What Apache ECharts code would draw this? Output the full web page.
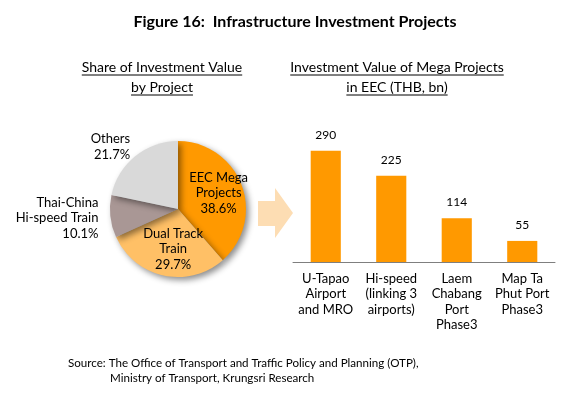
<!DOCTYPE html>
<html>
<head>
<meta charset="utf-8">
<script src="https://cdn.jsdelivr.net/npm/echarts@6/dist/echarts.min.js"></script>
<style>html,body{margin:0;padding:0;background:#fff;}#c{width:578px;height:393px;}</style>
</head>
<body>
<div id="c"></div>
<script>
const pieNames = ['EEC Mega\nProjects', 'Dual Track\nTrain', 'Thai-China\nHi-speed Train', 'Others'];
const pieValues = [38.6, 29.7, 10.1, 21.7];
const barCategories = ['U-Tapao\nAirport\nand MRO', 'Hi-speed\n(linking 3\nairports)', 'Laem\nChabang\nPort\nPhase3', 'Map Ta\nPhut Port\nPhase3'];
const barValues = [290, 225, 114, 55];

const FONT = 'Lato';
const chart = echarts.init(document.getElementById('c'), null, {renderer: 'canvas'});

function textW(t, size, weight) {
  const cv = document.createElement('canvas').getContext('2d');
  cv.font = (weight || 'normal') + ' ' + size + 'px ' + FONT;
  return cv.measureText(t).width;
}
function underlined(lines, cx, y0, lh, size) {
  const out = [];
  lines.forEach((t, i) => {
    const y = y0 + i * lh;
    const w = textW(t, size);
    out.push({type: 'text', style: {text: t, x: cx, y: y, align: 'center', verticalAlign: 'middle', font: size + 'px ' + FONT, fill: '#000'}});
    out.push({type: 'line', shape: {x1: cx - w / 2, y1: y + 8, x2: cx + w / 2, y2: y + 8}, style: {stroke: '#000', lineWidth: 1}});
  });
  return out;
}

const pieColors = ['#FF9900', '#FFC066', '#A99795', '#D9D9D9'];
const labelShift = [[6, -3], [3, 4], [1, 1], [5, -3]];

const option = {
  backgroundColor: '#fff',
  animation: false,
  textStyle: {fontFamily: FONT},
  title: {
    text: 'Figure 16:  Infrastructure Investment Projects',
    left: 290, top: 9, textAlign: 'center',
    textStyle: {fontFamily: FONT, fontSize: 16, fontWeight: 'bold', color: '#000'}
  },
  grid: {left: 293, right: 23, top: 147, bottom: 131},
  xAxis: {
    type: 'category',
    data: barCategories,
    axisLine: {lineStyle: {color: '#7f7f7f', width: 1}},
    axisTick: {show: false},
    axisLabel: {interval: 0, color: '#000', fontSize: 13, lineHeight: 15.5, margin: 9, fontFamily: FONT}
  },
  yAxis: {type: 'value', min: 0, max: 300, show: false, splitLine: {show: false}},
  series: [
    {
      type: 'bar',
      data: barValues,
      barWidth: '46%',
      itemStyle: {color: '#FF9900'},
      label: {show: true, position: 'top', distance: 10, color: '#000', fontSize: 12, fontFamily: FONT}
    },
    {
      type: 'pie',
      center: [178, 209],
      radius: [0, 68],
      startAngle: 90,
      clockwise: true,
      data: pieNames.map((n, i) => ({
        name: n, value: pieValues[i],
        itemStyle: {color: pieColors[i]},
        label: i < 2 ? {position: 'inside'} : {position: 'outside'}
      })),
      itemStyle: {shadowBlur: 6, shadowOffsetX: 3, shadowOffsetY: 3, shadowColor: 'rgba(0,0,0,0.45)'},
      label: {
        show: true,
        formatter: p => p.name + '\n' + p.value.toFixed(1) + '%',
        color: '#000', fontSize: 13, lineHeight: 15.5, fontFamily: FONT, align: 'center'
      },
      labelLine: {show: false, length: 8, length2: 0},
      emphasis: {disabled: true},
      labelLayout: function (p) {
        const s = labelShift[p.dataIndex];
        return {dx: s[0], dy: s[1]};
      }
    }
  ],
  graphic: [].concat(
    underlined(['Share of Investment Value', 'by Project'], 162, 67, 20, 14),
    underlined(['Investment Value of Mega Projects', 'in EEC (THB, bn)'], 397, 67, 20, 14),
    [{
      type: 'polygon',
      shape: {points: [[258, 201], [275, 201], [275, 188], [293, 213], [275, 238], [275, 226], [258, 226]]},
      style: {fill: '#FDDDB3'}
    },
    {type: 'text', style: {text: 'Source: The Office of Transport and Traffic Policy and Planning (OTP),', x: 68, y: 363, verticalAlign: 'middle', font: '11.6px ' + FONT, fill: '#000'}},
    {type: 'text', style: {text: 'Ministry of Transport, Krungsri Research', x: 110, y: 378, verticalAlign: 'middle', font: '11.6px ' + FONT, fill: '#000'}}]
  )
};
chart.setOption(option);
</script>
</body>
</html>
